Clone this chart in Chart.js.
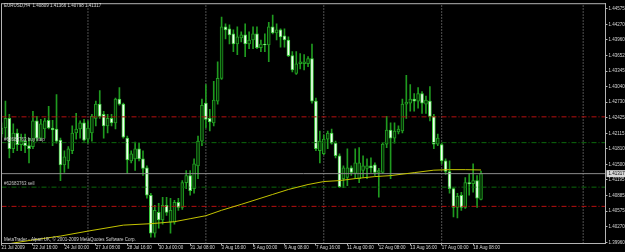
<!DOCTYPE html>
<html>
<head>
<meta charset="utf-8">
<script src="https://cdn.jsdelivr.net/npm/chart.js@4.4.0/dist/chart.umd.min.js"></script>
<style>
  html, body { margin: 0; padding: 0; background: #000; }
  canvas { display: block; background: #000; }
</style>
</head>
<body>
<canvas id="chart" width="625" height="252"></canvas>
<script>
// EURUSD H4, 21 Jul 2009 08:00 .. 18 Aug 2009 16:00 (bar index 0..122)
const open = [
  1.4210,1.4222,1.4241,1.4181,1.4212,1.4189,1.4196,1.4187,1.4185,1.4236,
  1.4202,1.4220,1.4237,1.4222,1.4220,1.4198,1.4149,1.4157,1.4177,1.4212,
  1.4220,1.4232,1.4200,1.4212,1.4241,1.4269,1.4249,1.4226,1.4241,1.4232,
  1.4279,1.4269,1.4202,1.4157,1.4161,1.4181,1.4161,1.4143,1.4089,1.4014,
  1.4055,1.4040,1.4069,1.4036,1.4036,1.4075,1.4065,1.4114,1.4128,1.4102,
  1.4147,1.4196,1.4271,1.4241,1.4232,1.4275,1.4320,1.4422,1.4418,1.4408,
  1.4388,1.4400,1.4406,1.4388,1.4396,1.4408,1.4381,1.4388,1.4386,1.4422,
  1.4410,1.4416,1.4404,1.4396,1.4365,1.4330,1.4349,1.4349,1.4349,1.4359,
  1.4275,1.4177,1.4171,1.4200,1.4212,1.4192,1.4167,1.4122,1.4124,1.4143,
  1.4132,1.4122,1.4138,1.4142,1.4147,1.4149,1.4134,1.4134,1.4190,1.4218,
  1.4202,1.4214,1.4216,1.4269,1.4271,1.4279,1.4275,1.4290,1.4269,1.4275,
  1.4245,1.4190,1.4189,1.4157,1.4136,1.4102,1.4065,1.4089,1.4065,1.4114,
  1.4112,1.4118,1.40809
];
const high = [
  1.4232,1.4275,1.4249,1.4230,1.4220,1.4210,1.4210,1.4202,1.4255,1.4245,
  1.4239,1.4241,1.4265,1.4237,1.4288,1.4202,1.4177,1.4185,1.4226,1.4251,
  1.4236,1.4239,1.4236,1.4249,1.4275,1.4296,1.4255,1.4249,1.4249,1.4281,
  1.4302,1.4271,1.4206,1.4177,1.4194,1.4192,1.4177,1.4147,1.4093,1.4069,
  1.4073,1.4085,1.4085,1.4083,1.4079,1.4083,1.4118,1.4138,1.4138,1.4161,
  1.4206,1.4279,1.4308,1.4259,1.4314,1.4353,1.4441,1.4428,1.4426,1.4416,
  1.4422,1.4412,1.4428,1.4412,1.4422,1.4422,1.4396,1.4408,1.4431,1.4445,
  1.4428,1.4418,1.4418,1.4402,1.4373,1.4373,1.4369,1.4367,1.4363,1.4388,
  1.4281,1.4216,1.4208,1.4216,1.4220,1.4196,1.4171,1.4147,1.4181,1.4147,
  1.4181,1.4183,1.4167,1.4161,1.4163,1.4153,1.4142,1.4192,1.4245,1.4232,
  1.4232,1.4226,1.4279,1.4326,1.4308,1.4290,1.4302,1.4294,1.4285,1.4304,
  1.4249,1.4210,1.4192,1.4161,1.4157,1.4104,1.4093,1.4095,1.4124,1.4132,
  1.4151,1.4128,1.41366
];
const low = [
  1.4204,1.4202,1.4163,1.4173,1.4177,1.4177,1.4173,1.4153,1.4181,1.4196,
  1.4198,1.4202,1.4220,1.4187,1.4192,1.4118,1.4134,1.4142,1.4171,1.4200,
  1.4202,1.4196,1.4192,1.4196,1.4226,1.4241,1.4202,1.4212,1.4226,1.4220,
  1.4267,1.4202,1.4132,1.4153,1.4138,1.4157,1.4128,1.4083,1.4006,1.4006,
  1.4024,1.4032,1.4049,1.4014,1.4032,1.4059,1.4061,1.4102,1.4089,1.4093,
  1.4122,1.4187,1.4222,1.4216,1.4226,1.4269,1.4318,1.4398,1.4388,1.4373,
  1.4367,1.4392,1.4363,1.4379,1.4379,1.4379,1.4373,1.4373,1.4353,1.4408,
  1.4396,1.4382,1.4382,1.4363,1.4333,1.4328,1.4339,1.4337,1.4343,1.4271,
  1.4177,1.4153,1.4169,1.4181,1.4190,1.4163,1.4104,1.4104,1.4108,1.4128,
  1.4122,1.4114,1.4124,1.4122,1.4134,1.4128,1.4085,1.4132,1.4183,1.4122,
  1.4192,1.4210,1.4212,1.4241,1.4255,1.4255,1.4261,1.4251,1.4251,1.4236,
  1.4181,1.4187,1.4151,1.4130,1.4093,1.4046,1.4044,1.4059,1.4063,1.4089,
  1.4095,1.4065,1.40798
];
const close = [
  1.4222,1.4241,1.4181,1.4212,1.4189,1.4196,1.4187,1.4181,1.4236,1.4202,
  1.4230,1.4236,1.4222,1.4218,1.4196,1.4149,1.4165,1.4181,1.4212,1.4220,
  1.4232,1.4198,1.4222,1.4245,1.4269,1.4245,1.4226,1.4241,1.4232,1.4279,
  1.4269,1.4204,1.4159,1.4171,1.4181,1.4161,1.4142,1.4089,1.4014,1.4059,
  1.4040,1.4069,1.4055,1.4059,1.4075,1.4065,1.4114,1.4128,1.4098,1.4151,
  1.4196,1.4267,1.4239,1.4234,1.4277,1.4320,1.4422,1.4416,1.4406,1.4388,
  1.4402,1.4406,1.4388,1.4396,1.4408,1.4381,1.4388,1.4386,1.4422,1.4410,
  1.4416,1.4402,1.4396,1.4365,1.4337,1.4349,1.4353,1.4353,1.4359,1.4275,
  1.4181,1.4196,1.4200,1.4212,1.4192,1.4167,1.4106,1.4143,1.4143,1.4134,
  1.4153,1.4153,1.4147,1.4147,1.4143,1.4134,1.4138,1.4190,1.4218,1.4202,
  1.4216,1.4220,1.4269,1.4273,1.4279,1.4275,1.4290,1.4271,1.4277,1.4245,
  1.4190,1.4202,1.4157,1.4136,1.4102,1.4065,1.4087,1.4065,1.4114,1.4112,
  1.4118,1.4083,1.41317
];

// moving average, read at a few bars
const maBars   = [0, 7, 15, 22, 31, 38, 44, 48, 52, 56, 61, 65, 69, 73, 78, 82, 86, 90, 95, 99, 105, 110, 114, 118, 122];
const maValues = [1.39907, 1.39995, 1.40083, 1.40181, 1.40299, 1.40328, 1.40367, 1.40426, 1.40485, 1.40593,
                  1.40710, 1.40808, 1.40906, 1.41004, 1.41102, 1.41161, 1.41180, 1.41219, 1.41259, 1.41278,
                  1.41337, 1.41386, 1.41396, 1.41396, 1.41390];

// order levels: SL / buy stop / sell / SL
const levelPrices = [1.4244, 1.4193, 1.4105, 1.4067];
const orderLabels = ['#62683763 buy stop', '#62683763 sell'];
const orderLabelPrices = [1.4193, 1.4105];

const separatorBars = [22, 52, 82, 112, 148];

const tickBars = [0, 8, 16, 24, 32, 40, 48, 56, 64, 72, 80, 88, 96, 104, 112, 120];
const tickLabels = ['21 Jul 2009', '22 Jul 16:00', '24 Jul 00:00', '27 Jul 08:00', '28 Jul 16:00',
  '30 Jul 00:00', '31 Jul 08:00', '3 Aug 16:00', '5 Aug 00:00', '6 Aug 08:00', '7 Aug 16:00',
  '11 Aug 00:00', '12 Aug 08:00', '13 Aug 16:00', '17 Aug 00:00', '18 Aug 08:00'];

const priceTicks = [1.44575, 1.44270, 1.43960, 1.43652, 1.43345, 1.43040, 1.42730, 1.42425,
  1.42115, 1.41810, 1.41500, 1.41195, 1.40885, 1.40575, 1.40270, 1.39960];

const symbol = 'EURUSD,H4';
const copyright = 'MetaTrader - Alpari UK, \u00a9 2001-2009 MetaQuotes Software Corp.';

const yMin = 1.39936, yMax = 1.44677;
const xMin = 0, xMax = 153.68;
const FONT = 'Liberation Sans';
const last = close.length - 1;

const isBull = close.map((c, i) => c >= open[i]);
const bodyData = close.map((c, i) => ({ x: i, y: [open[i], c] }));
const wickData = close.map((c, i) => ({ x: i, y: [low[i], high[i]] }));

const levelColors = ['#b81010', '#0c6a0c', '#0c6a0c', '#b81010'];
const levelSets = levelPrices.map((p, k) => ({
  type: 'line',
  data: [{ x: xMin, y: p }, { x: xMax, y: p }],
  borderColor: levelColors[k],
  borderWidth: 1,
  borderDash: [5, 2, 1, 2],
  pointRadius: 0,
  order: 0
}));

const sepData = [];
separatorBars.forEach(b => {
  sepData.push({ x: b, y: yMin }, { x: b, y: yMax }, { x: b, y: null });
});

const overlay = {
  id: 'overlay',
  afterDraw(chart) {
    const { ctx, chartArea: a, scales: { y } } = chart;
    ctx.save();
    ctx.strokeStyle = '#b4b4b4';
    ctx.lineWidth = 1;
    ctx.strokeRect(a.left, a.top, a.right - a.left, a.bottom - a.top);

    ctx.font = '4.5px "' + FONT + '"';
    ctx.textBaseline = 'middle';
    ctx.textAlign = 'left';
    ctx.fillStyle = '#d8d8d8';
    const t = [open[last], high[last], low[last], close[last]].map(v => v.toFixed(5)).join(' ');
    ctx.fillText(symbol + '  ' + t, 4, 6);
    ctx.fillText(copyright, 4, 240);

    ctx.fillStyle = '#c4c4c4';
    orderLabels.forEach((s, k) => {
      ctx.fillText(s, 4, y.getPixelForValue(orderLabelPrices[k]) - 3);
    });

    // current price box
    const py = y.getPixelForValue(close[last]);
    ctx.fillStyle = '#d8d8d8';
    ctx.fillRect(a.right + 1, py - 3.5, 625 - a.right - 1, 7);
    ctx.fillStyle = '#000';
    ctx.fillText(close[last].toFixed(5), a.right + 3, py);
    ctx.restore();
  }
};

new Chart(document.getElementById('chart'), {
  type: 'bar',
  data: {
    datasets: [
      {
        type: 'line',
        data: maBars.map((b, i) => ({ x: b, y: maValues[i] })),
        borderColor: '#c4c400',
        borderWidth: 1,
        pointRadius: 0,
        order: 0
      },
      {
        type: 'line',
        data: [{ x: xMin, y: close[last] }, { x: xMax, y: close[last] }],
        borderColor: '#8c8c8c',
        borderWidth: 1,
        pointRadius: 0,
        order: 0
      },
      ...levelSets,
      {
        type: 'line',
        data: sepData,
        borderColor: '#a0a0a0',
        borderWidth: 1,
        borderDash: [1, 2],
        pointRadius: 0,
        spanGaps: false,
        order: 3
      },
      {
        data: bodyData,
        backgroundColor: isBull.map(b => b ? '#052e05' : '#f2fff2'),
        borderColor: isBull.map(b => b ? '#22a022' : '#3cd03c'),
        borderWidth: 1,
        borderSkipped: false,
        barThickness: 3,
        minBarLength: 1,
        grouped: false,
        order: 1
      },
      {
        data: wickData,
        backgroundColor: '#1f9a1f',
        barThickness: 1,
        grouped: false,
        order: 2
      }
    ]
  },
  options: {
    responsive: false,
    animation: false,
    layout: { padding: { left: 1.5, top: 1.5, right: 0, bottom: 0 } },
    plugins: { legend: { display: false }, tooltip: { enabled: false } },
    scales: {
      x: {
        type: 'linear',
        min: xMin,
        max: xMax,
        offset: false,
        afterBuildTicks: s => { s.ticks = tickBars.map(v => ({ value: v })); },
        afterFit: s => { s.height = 8.5; },
        grid: { drawOnChartArea: false, offset: false, color: '#b4b4b4', tickLength: 2 },
        border: { color: '#b4b4b4' },
        ticks: {
          color: '#d8d8d8',
          font: { family: FONT, size: 4.5 },
          padding: 0,
          maxRotation: 0,
          autoSkip: false,
          align: 'start',
          callback: v => tickLabels[tickBars.indexOf(v)]
        }
      },
      y: {
        position: 'right',
        min: yMin,
        max: yMax,
        afterBuildTicks: s => { s.ticks = priceTicks.map(v => ({ value: v })); },
        afterFit: s => { s.width = 19.5; },
        grid: { drawOnChartArea: false, color: '#b4b4b4', tickLength: 2 },
        border: { color: '#b4b4b4' },
        ticks: {
          color: '#d8d8d8',
          font: { family: FONT, size: 4.5 },
          padding: 1,
          callback: v => v.toFixed(5)
        }
      }
    }
  },
  plugins: [overlay]
});
</script>
</body>
</html>
